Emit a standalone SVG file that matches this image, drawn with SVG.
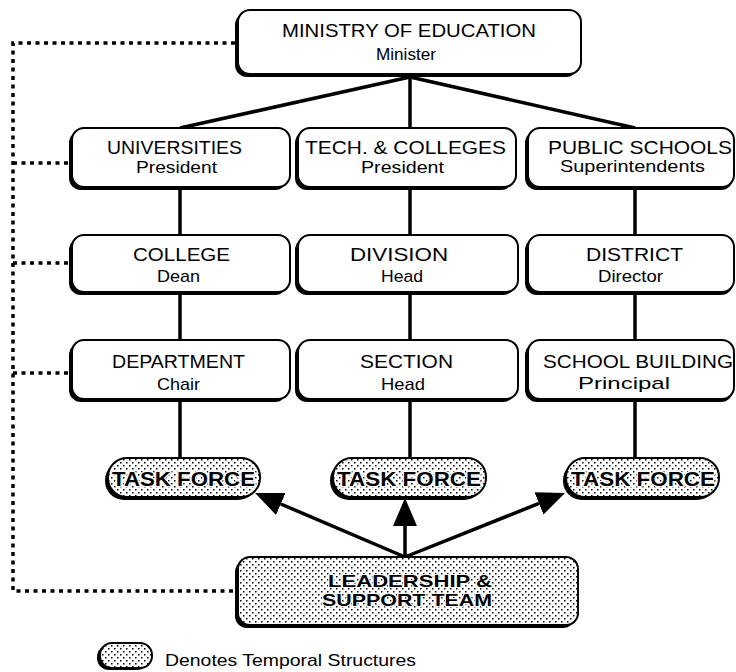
<svg xmlns="http://www.w3.org/2000/svg" width="736" height="672" viewBox="0 0 736 672">
<style>
  .shadow { fill: #000; }
  .box { fill: #fff; stroke: #000; stroke-width: 2; }
  .temp { fill: url(#dots); stroke: #000; stroke-width: 2; }
  .title { font-family: "Liberation Sans", Arial, sans-serif; font-size: 18px; fill: #000; }
  .sub { font-family: "Liberation Sans", Arial, sans-serif; font-size: 17px; fill: #000; }
  .bold { font-family: "Liberation Sans", Arial, sans-serif; font-size: 20px; font-weight: bold; fill: #000; stroke: #fff; stroke-width: 2.5; paint-order: stroke; stroke-linejoin: round; }
  .bold2 { font-family: "Liberation Sans", Arial, sans-serif; font-size: 17px; font-weight: bold; fill: #000; stroke: #fff; stroke-width: 2; paint-order: stroke; stroke-linejoin: round; }
  .conn { stroke: #000; stroke-width: 3.5; fill: none; }
  .dot { stroke: #000; stroke-width: 3.5; fill: none; stroke-dasharray: 4 4.5; }
</style>
<defs>
  <pattern id="dots" width="6" height="6" patternUnits="userSpaceOnUse">
    <rect width="6" height="6" fill="#fff"/>
    <rect x="0" y="0" width="1.5" height="1.5" fill="#000"/>
    <rect x="3" y="3" width="1.5" height="1.5" fill="#000"/>
  </pattern>
  <marker id="arrow" viewBox="0 0 28 24" refX="0" refY="12" markerWidth="28" markerHeight="24" markerUnits="userSpaceOnUse" orient="auto">
    <path d="M0,0 L28,12 L0,24 z" fill="#000"/>
  </marker>
</defs>
<rect width="736" height="672" fill="#fff"/>

<g id="connectors">
  <polyline class="dot" points="235,43 13,43 13,591 235,591"/>
  <line class="dot" x1="13" y1="163" x2="69" y2="163"/>
  <line class="dot" x1="13" y1="263" x2="69" y2="263"/>
  <line class="dot" x1="13" y1="373" x2="69" y2="373"/>
  <line class="conn" x1="410" y1="77" x2="180" y2="128"/>
  <line class="conn" x1="410" y1="77" x2="410" y2="128"/>
  <line class="conn" x1="410" y1="77" x2="635" y2="128"/>
  <line class="conn" x1="180" y1="190" x2="180" y2="235"/>
  <line class="conn" x1="180" y1="295" x2="180" y2="340"/>
  <line class="conn" x1="180" y1="402" x2="180" y2="458"/>
  <line class="conn" x1="410" y1="190" x2="410" y2="235"/>
  <line class="conn" x1="410" y1="295" x2="410" y2="340"/>
  <line class="conn" x1="410" y1="402" x2="410" y2="458"/>
  <line class="conn" x1="635" y1="187" x2="635" y2="235"/>
  <line class="conn" x1="635" y1="295" x2="635" y2="340"/>
  <line class="conn" x1="635" y1="402" x2="635" y2="458"/>
  <line class="conn" x1="405" y1="557" x2="280.8" y2="504" marker-end="url(#arrow)"/>
  <line class="conn" x1="405" y1="557" x2="405" y2="526" marker-end="url(#arrow)"/>
  <line class="conn" x1="405" y1="557" x2="539" y2="503.4" marker-end="url(#arrow)"/>
</g>

<g id="ministry">
  <rect class="shadow" x="235" y="13" width="343" height="64" rx="12"/>
  <rect class="box" x="238" y="10" width="343" height="64" rx="12"/>
  <text class="title" x="282" y="37" textLength="254" lengthAdjust="spacingAndGlyphs">MINISTRY OF EDUCATION</text>
  <text class="sub" x="376" y="60" textLength="60" lengthAdjust="spacingAndGlyphs">Minister</text>
</g>

<g id="universities">
  <rect class="shadow" x="69" y="131" width="218" height="59" rx="12"/>
  <rect class="box" x="72" y="128" width="218" height="59" rx="12"/>
  <text class="title" x="107" y="154" textLength="135" lengthAdjust="spacingAndGlyphs">UNIVERSITIES</text>
  <text class="sub" x="136" y="173" textLength="81" lengthAdjust="spacingAndGlyphs">President</text>
</g>

<g id="tech-colleges">
  <rect class="shadow" x="295" y="131" width="218" height="59" rx="12"/>
  <rect class="box" x="298" y="128" width="218" height="59" rx="12"/>
  <text class="title" x="305" y="154" textLength="201" lengthAdjust="spacingAndGlyphs">TECH. &amp; COLLEGES</text>
  <text class="sub" x="361" y="173" textLength="83" lengthAdjust="spacingAndGlyphs">President</text>
</g>

<g id="public-schools">
  <rect class="shadow" x="525" y="131" width="208" height="59" rx="12"/>
  <rect class="box" x="528" y="128" width="206" height="59" rx="12"/>
  <text class="title" x="548" y="154" textLength="184" lengthAdjust="spacingAndGlyphs">PUBLIC SCHOOLS</text>
  <text class="sub" x="560" y="172" textLength="145" lengthAdjust="spacingAndGlyphs">Superintendents</text>
</g>

<g id="college">
  <rect class="shadow" x="69" y="238" width="218" height="57" rx="12"/>
  <rect class="box" x="72" y="235" width="218" height="57" rx="12"/>
  <text class="title" x="133" y="261" textLength="97" lengthAdjust="spacingAndGlyphs">COLLEGE</text>
  <text class="sub" x="157" y="282" textLength="43" lengthAdjust="spacingAndGlyphs">Dean</text>
</g>

<g id="division">
  <rect class="shadow" x="295" y="238" width="220" height="57" rx="12"/>
  <rect class="box" x="298" y="235" width="220" height="57" rx="12"/>
  <text class="title" x="350" y="261" textLength="98" lengthAdjust="spacingAndGlyphs">DIVISION</text>
  <text class="sub" x="381" y="282" textLength="42" lengthAdjust="spacingAndGlyphs">Head</text>
</g>

<g id="district">
  <rect class="shadow" x="525" y="238" width="208" height="57" rx="12"/>
  <rect class="box" x="528" y="235" width="206" height="57" rx="12"/>
  <text class="title" x="586" y="261" textLength="97" lengthAdjust="spacingAndGlyphs">DISTRICT</text>
  <text class="sub" x="598" y="282" textLength="65" lengthAdjust="spacingAndGlyphs">Director</text>
</g>

<g id="department">
  <rect class="shadow" x="69" y="343" width="218" height="59" rx="12"/>
  <rect class="box" x="72" y="340" width="218" height="59" rx="12"/>
  <text class="title" x="112" y="368" textLength="133" lengthAdjust="spacingAndGlyphs">DEPARTMENT</text>
  <text class="sub" x="157" y="390" textLength="43" lengthAdjust="spacingAndGlyphs">Chair</text>
</g>

<g id="section">
  <rect class="shadow" x="295" y="343" width="220" height="59" rx="12"/>
  <rect class="box" x="298" y="340" width="220" height="59" rx="12"/>
  <text class="title" x="360" y="368" textLength="93" lengthAdjust="spacingAndGlyphs">SECTION</text>
  <text class="sub" x="381" y="390" textLength="44" lengthAdjust="spacingAndGlyphs">Head</text>
</g>

<g id="school-building">
  <rect class="shadow" x="525" y="343" width="208" height="59" rx="12"/>
  <rect class="box" x="528" y="340" width="206" height="59" rx="12"/>
  <text class="title" x="543" y="368" textLength="190" lengthAdjust="spacingAndGlyphs">SCHOOL BUILDING</text>
  <text class="sub" x="578" y="389" textLength="92" lengthAdjust="spacingAndGlyphs">Principal</text>
</g>

<g id="task-force-1">
  <rect class="shadow" x="105" y="461" width="152" height="39" rx="19"/>
  <rect class="temp" x="108" y="458" width="152" height="39" rx="19"/>
  <text class="bold" x="112" y="486" textLength="143" lengthAdjust="spacingAndGlyphs">TASK FORCE</text>
</g>

<g id="task-force-2">
  <rect class="shadow" x="330" y="461" width="153" height="39" rx="19"/>
  <rect class="temp" x="333" y="458" width="153" height="39" rx="19"/>
  <text class="bold" x="337" y="486" textLength="144" lengthAdjust="spacingAndGlyphs">TASK FORCE</text>
</g>

<g id="task-force-3">
  <rect class="shadow" x="563" y="461" width="153" height="39" rx="19"/>
  <rect class="temp" x="566" y="458" width="153" height="39" rx="19"/>
  <text class="bold" x="571" y="486" textLength="144" lengthAdjust="spacingAndGlyphs">TASK FORCE</text>
</g>

<g id="leadership-support-team">
  <rect class="shadow" x="235" y="560" width="340" height="68" rx="12"/>
  <rect class="temp" x="238" y="557" width="340" height="68" rx="12"/>
  <text class="bold2" x="328" y="587" textLength="164" lengthAdjust="spacingAndGlyphs">LEADERSHIP &amp;</text>
  <text class="bold2" x="322" y="606" textLength="170" lengthAdjust="spacingAndGlyphs">SUPPORT TEAM</text>
</g>

<g id="legend">
  <rect class="shadow" x="97" y="645" width="52" height="25" rx="12"/>
  <rect class="temp" x="100" y="643" width="52" height="25" rx="12"/>
  <text class="sub" x="165" y="666" textLength="251" lengthAdjust="spacingAndGlyphs">Denotes Temporal Structures</text>
</g>
</svg>
